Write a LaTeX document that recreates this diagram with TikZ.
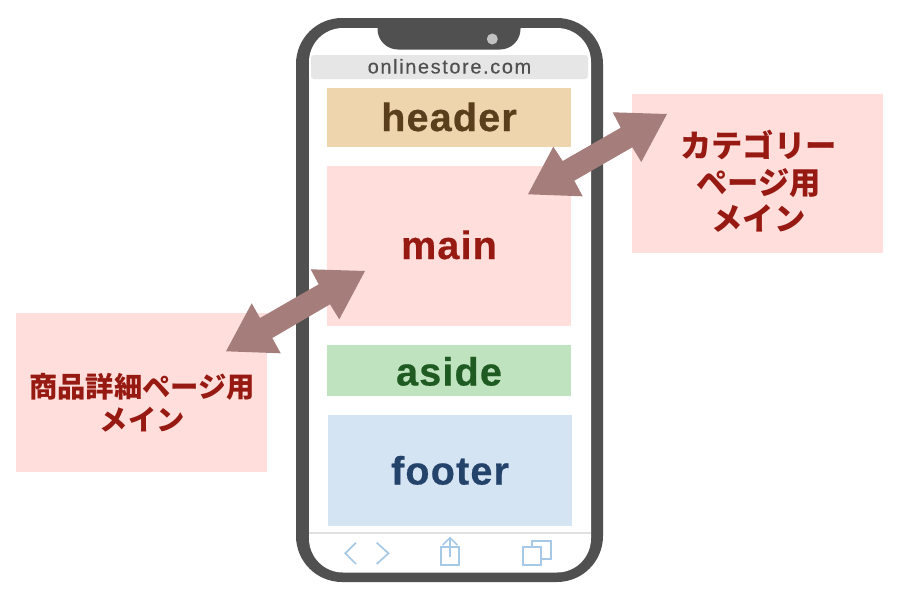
\documentclass[tikz,border=0pt]{standalone}
\usepackage{fontspec}
\setmainfont{Liberation Sans}
\newfontfamily\cjkL{Noto Sans CJK JP}
\newfontfamily\urlf[LetterSpace=8,FakeBold=0.25]{Liberation Sans}
\newfontfamily\labf[LetterSpace=3,FakeBold=0.6]{Liberation Sans}
\definecolor{phonecol}{HTML}{505050}
\definecolor{urlbg}{HTML}{E6E6E6}
\definecolor{linecol}{HTML}{E0E0E0}
\definecolor{iconcol}{HTML}{A6C9E8}
\definecolor{arrowcol}{HTML}{A57E7C}
\definecolor{pinkbg}{HTML}{FFDEDB}
\definecolor{redtxt}{HTML}{971A12}
\definecolor{headerbg}{HTML}{EFD5AE}
\definecolor{headertxt}{HTML}{5A3F1C}
\definecolor{asidebg}{HTML}{BEE3BE}
\definecolor{asidetxt}{HTML}{1F5A22}
\definecolor{footerbg}{HTML}{D5E4F3}
\definecolor{footertxt}{HTML}{24436B}
\tikzset{
  x=1pt,y=-1pt,
  area/.style={inner sep=0pt,outer sep=0pt,align=center,font=\labf\bfseries\fontsize{39.5}{40}\selectfont},
  note/.style={inner sep=0pt,outer sep=0pt,fill=pinkbg,minimum width=251pt,minimum height=159pt,text=redtxt,align=center},
  icon/.style={draw=iconcol,line width=1.7pt,fill=none},
  blockarrow/.style={fill=arrowcol,draw=none},
}
\begin{document}
\begin{tikzpicture}
\useasboundingbox (0,0) rectangle (900,600);
% phone
\fill[phonecol,rounded corners=46pt] (296,18) rectangle (603,582);
\fill[white,rounded corners=34pt] (309,28) rectangle (591,572.5);
\fill[phonecol] (377.5,27) -- (520.5,27) -- (520.5,29) arc[start angle=0,end angle=90,radius=20.5] -- (398,49.5) arc[start angle=90,end angle=180,radius=20.5] -- cycle;
\fill[black!24] (492.3,39) circle[radius=5.5];
% url bar
\node[inner sep=0pt,outer sep=0pt,fill=urlbg,rounded corners=3pt,minimum width=277pt,minimum height=24pt,text=phonecol,text height=13pt,text depth=0pt,font=\urlf\fontsize{20}{20}\selectfont] (url) at (449.5,67) {onlinestore.com};
% areas
\node[area,fill=headerbg,text=headertxt,minimum width=244pt,minimum height=59pt,text height=27pt,text depth=0pt] (header) at (449,117.5) {header};
\node[area,fill=pinkbg,text=redtxt,minimum width=244pt,minimum height=160pt,text height=26pt,text depth=0pt] (main) at (449,246) {main};
\node[area,fill=asidebg,text=asidetxt,minimum width=244pt,minimum height=51pt,text height=30pt,text depth=0pt] (aside) at (449,370.5) {aside};
\node[area,fill=footerbg,text=footertxt,minimum width=244pt,minimum height=111pt,text height=28pt,text depth=0pt] (footer) at (450,470.5) {footer};
% toolbar
\draw[linecol,line width=1.5pt] (309,533) -- (591,533);
\draw[icon] (356,542.7) -- (345.3,553.3) -- (356,564);
\draw[icon] (376.7,542.7) -- (388.5,553.3) -- (376.7,564);
\draw[icon] (450,537.7) -- (450,556.7);
\draw[icon] (442.7,545) -- (450,537.7) -- (457.3,545);
\draw[icon] (440.7,546.7) rectangle (459.3,565);
\draw[icon] (531.7,547) -- (531.7,540.7) -- (550.7,540.7) -- (550.7,559.3) -- (541,559.3);
\draw[icon] (522.7,547.3) rectangle (541,565);
% notes
\node[note,font=\cjkL\bfseries\fontsize{31.3}{36}\selectfont] (catnote) at (757.5,173.5) {\hspace{2pt}\raisebox{-18.5pt}[0pt][0pt]{\begin{tabular}{@{}c@{}}カテゴリー\\ページ用\\メイン\end{tabular}}};
\node[note,font=\cjkL\bfseries\fontsize{28.3}{32}\selectfont] (prodnote) at (141.5,392.5) {\hspace{1.5pt}\raisebox{-20.5pt}[0pt][0pt]{\begin{tabular}{@{}c@{}}商品詳細ページ用\\メイン\end{tabular}}};
% block arrows
\fill[blockarrow] (226,351.3) -- (251.7,303.3) -- (260,318) -- (318.7,284.3) -- (310.7,269.3) -- (365,271) -- (339.3,319.3) -- (330,304.3) -- (272.3,338) -- (280.7,353.3) -- cycle;
\fill[blockarrow] (528,194.3) -- (553.3,146.7) -- (562.7,161) -- (620.7,127.7) -- (612.7,112.3) -- (667,114) -- (641.3,162) -- (632.3,147.3) -- (574.3,180.7) -- (582.7,196.3) -- cycle;
\end{tikzpicture}
\end{document}
